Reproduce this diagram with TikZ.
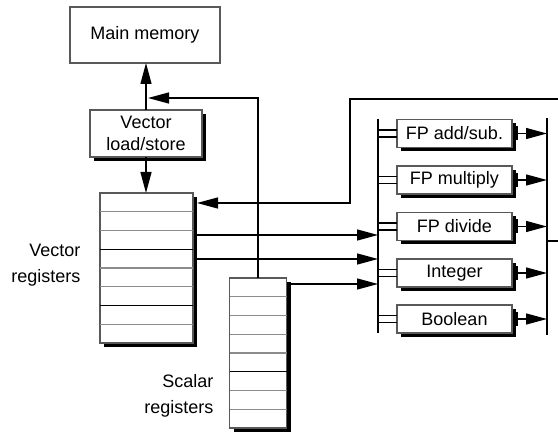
\documentclass[tikz,border=0pt]{standalone}
\usepackage{fontspec}
\setmainfont{Liberation Sans}
\usetikzlibrary{arrows.meta,shadows,calc}
\begin{document}
\begin{tikzpicture}[x=1pt,y=-1pt,
  font=\fontsize{18}{22}\selectfont,
  line width=1.3pt,
  box/.style={draw=black!65,line width=1.3pt,fill=white,outer sep=0pt,inner sep=0pt,align=center},
  sbox/.style={box,drop shadow={shadow xshift=4pt,shadow yshift=-4pt,fill=black,opacity=1}},
  unit/.style={sbox,minimum width=115pt,minimum height=28pt},
  arr/.style={-{Triangle[length=21pt,width=11pt]}},
  rowline/.style={draw=black!45,line width=1.1pt},
  darkrow/.style={draw=black,line width=1.3pt}]
\useasboundingbox (0,0) rectangle (558,433);
% boxes
\node[box,minimum width=150pt,minimum height=56pt] (mem) at (145,35) {Main memory};
\node[sbox,minimum width=112pt,minimum height=47pt] (ls) at (146,133.5) {Vector\\load/store};
\node[sbox,minimum width=93pt,minimum height=150pt] (vreg) at (146.5,268) {};
\node[sbox,minimum width=57pt,minimum height=150pt] (sreg) at (258,353) {};
% register rows
\foreach \i in {1,...,7}{
  \ifnum\i=3 \def\st{darkrow}\else\ifnum\i=6 \def\st{darkrow}\else\def\st{rowline}\fi\fi
  \draw[\st] ($(vreg.north west)!\i/8!(vreg.south west)$) -- ($(vreg.north east)!\i/8!(vreg.south east)$);
  \ifnum\i=5 \def\st{darkrow}\else\def\st{rowline}\fi
  \draw[\st] ($(sreg.north west)!\i/8!(sreg.south west)$) -- ($(sreg.north east)!\i/8!(sreg.south east)$);
}
% labels
\node[anchor=east,align=right,inner sep=0pt,font=\fontsize{18}{26}\selectfont] (vlab) at (81,265) {Vector\\registers};
\node[anchor=east,align=right,inner sep=0pt,font=\fontsize{18}{26}\selectfont] (slab) at (214,396) {Scalar\\registers};
% functional units
\node[unit] (u1) at (454.5,133.5) {FP add/sub.};
\node[unit] (u2) at (454.5,180) {FP multiply};
\node[unit] (u3) at (454.5,226.5) {FP divide};
\node[unit] (u4) at (454.5,273) {Integer};
\node[unit] (u5) at (454.5,319) {Boolean};
% buses
\coordinate (ibT) at (378,119);
\coordinate (ibB) at (378,333);
\coordinate (obT) at (547,118);
\coordinate (obB) at (547,335);
\coordinate (stub) at (558,241);
\coordinate (topright) at (558,99);
\coordinate (fbturn) at (350,203);
\coordinate (j1) at (148,98);
\draw (ibT) -- (ibB);
\draw (obT) -- (obB);
\draw (stub -| obT) -- (stub);
% unit connections
\foreach \nm in {u1,u2,u3,u4,u5}{
  \draw ([yshift=3.5pt]\nm.west -| ibT) -- ([yshift=3.5pt]\nm.west);
  \draw ([yshift=-3.5pt]\nm.west -| ibT) -- ([yshift=-3.5pt]\nm.west);
  \draw ([xshift=5pt,yshift=7pt]\nm.east) -- ([xshift=5pt,yshift=-7pt]\nm.east);
  \draw[arr] ([xshift=5pt]\nm.east) -- (\nm.east -| obT);
}
% memory path
\draw[arr] (ls.north) -- (ls.north |- mem.south);
\draw[arr] (ls.south) -- (ls.south |- vreg.north);
\draw[arr] (sreg.north) |- (j1);
% feedback from result bus to vector registers
\draw[arr] (topright) -| (fbturn) -- ([xshift=4pt]fbturn -| vreg.east);
% register outputs to input bus
\draw[arr] ([xshift=4pt]vreg.east |- 0,235) -- (ibT |- 0,235);
\draw[arr] ([xshift=4pt]vreg.east |- 0,259) -- (ibT |- 0,259);
\draw[arr] ([xshift=4pt]sreg.east |- 0,284) -- (ibT |- 0,284);
\end{tikzpicture}
\end{document}
